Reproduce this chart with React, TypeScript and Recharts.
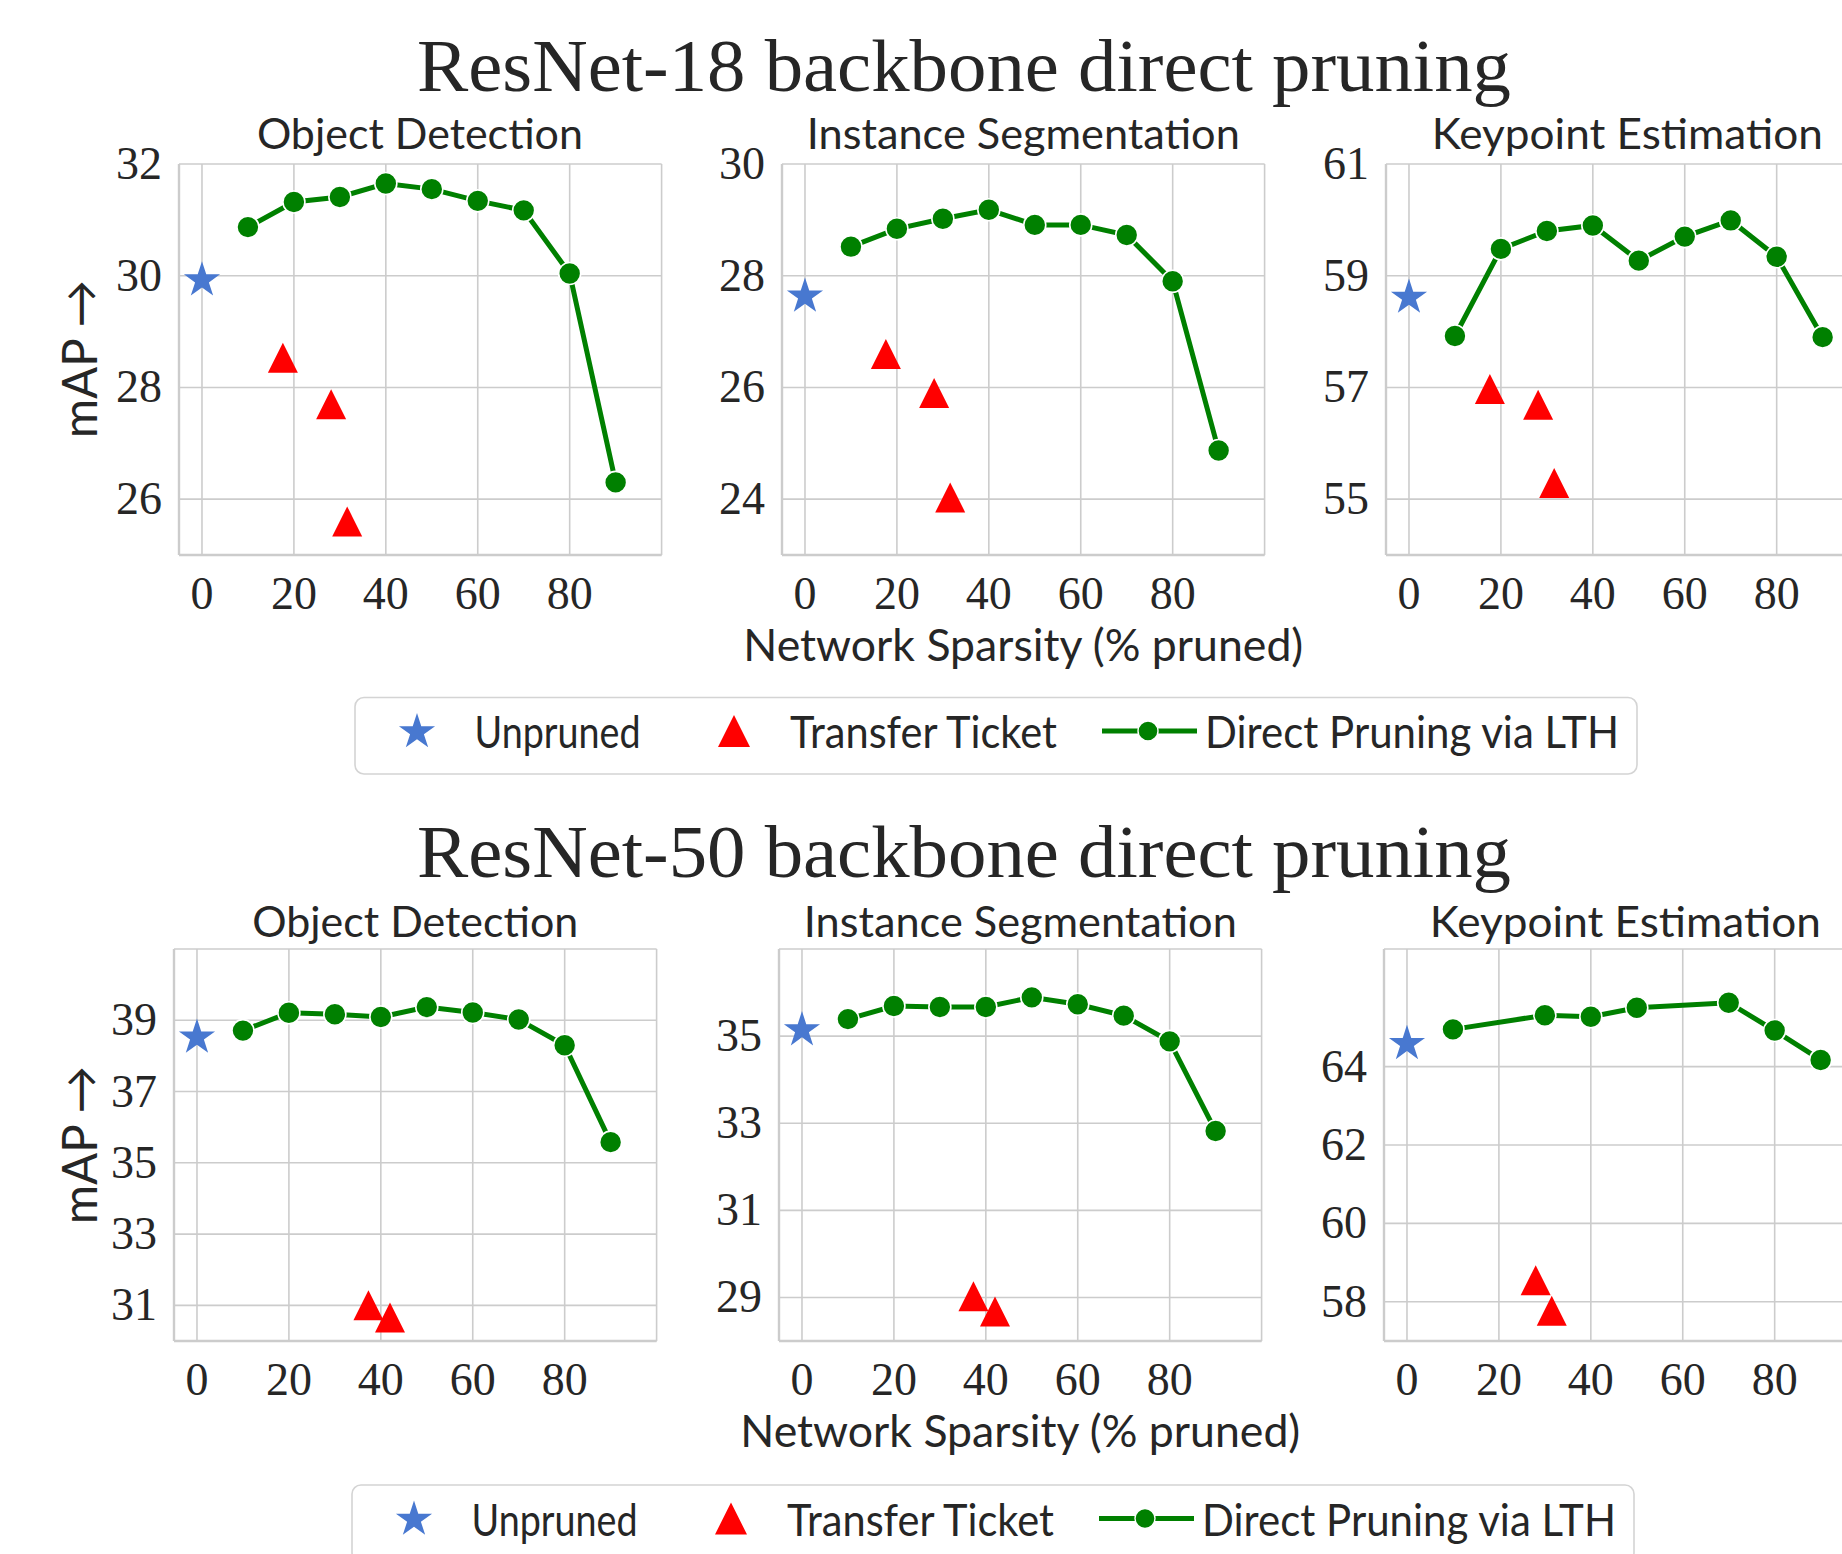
import React from "react";
import { ComposedChart, Line, Scatter, XAxis, YAxis, CartesianGrid } from "recharts";

// ---------------- data ----------------
const sparsity = [10, 20, 30, 40, 50, 60, 70, 80, 90];
const r18DetLTH = [30.87, 31.32, 31.41, 31.65, 31.55, 31.34, 31.17, 30.04, 26.3];
const r18SegLTH = [28.52, 28.84, 29.02, 29.18, 28.91, 28.91, 28.73, 27.9, 24.87];
const r18KptLTH = [57.92, 59.48, 59.8, 59.9, 59.27, 59.7, 59.99, 59.34, 57.9];
const r50DetLTH = [38.71, 39.21, 39.17, 39.09, 39.37, 39.22, 39.02, 38.3, 35.58];
const r50SegLTH = [35.39, 35.69, 35.67, 35.67, 35.89, 35.73, 35.47, 34.88, 32.82];
const r50KptSparsity = [10, 30, 40, 50, 70, 80, 90];
const r50KptLTH = [64.95, 65.31, 65.27, 65.5, 65.63, 64.92, 64.17];

const r18Unpruned = [29.92, 27.63, 58.61];
const r50Unpruned = [38.52, 35.14, 64.58];

const r18TicketSparsity = [17.6, 28.1, 31.6];
const r18DetTicket = [28.53, 27.7, 25.6];
const r18SegTicket = [26.6, 25.9, 24.03];
const r18KptTicket = [56.97, 56.69, 55.29];
const r50TicketSparsity = [37.3, 42.0];
const r50DetTicket = [31.0, 30.66];
const r50SegTicket = [29.03, 28.68];
const r50KptTicketSparsity = [28.0, 31.5];
const r50KptTicket = [58.55, 57.77];

const xTicks = [0, 20, 40, 60, 80];
const r18DetYTicks = [26, 28, 30, 32];
const r18SegYTicks = [24, 26, 28, 30];
const r18KptYTicks = [55, 57, 59, 61];
const r50DetYTicks = [31, 33, 35, 37, 39];
const r50SegYTicks = [29, 31, 33, 35];
const r50KptYTicks = [58, 60, 62, 64];

const taskTitles = ["Object Detection", "Instance Segmentation", "Keypoint Estimation"];
const figTitles = ["ResNet-18 backbone direct pruning", "ResNet-50 backbone direct pruning"];
const legendLabels = ["Unpruned", "Transfer Ticket", "Direct Pruning via LTH"];
const xLabel = "Network Sparsity (% pruned)";
const yLabel = "mAP \u2192";

// ---------------- style ----------------
const SANS = "Lato, 'Noto Sans', 'DejaVu Sans', sans-serif";
const SERIF = "'Liberation Serif', 'DejaVu Serif', serif";
const TXT = "#262626";
const GRID = "#cccccc";
const GREEN = "#008000";
const BLUE = "#4878d0";
const RED = "#ff0000";

const YW = 130;
const MT = 45;
const MR = 20;
const XH = 70;
const PLOT_W = 482.6;

const zip = (xs: number[], ys: number[]) => xs.map((x, i) => ({ x, y: ys[i] }));

function starPath(cx: number, cy: number, R: number) {
  const r = R * 0.381966;
  let d = "";
  for (let i = 0; i < 10; i++) {
    const a = ((-90 + i * 36) * Math.PI) / 180;
    const rad = i % 2 === 0 ? R : r;
    d += (i === 0 ? "M" : "L") + (cx + rad * Math.cos(a)).toFixed(2) + "," + (cy + rad * Math.sin(a)).toFixed(2);
  }
  return d + "Z";
}
function triPath(cx: number, cy: number, s: number) {
  const h = s / 2;
  return `M${cx},${cy - h}L${cx - h},${cy + h}L${cx + h},${cy + h}Z`;
}

const StarShape = (p: any) => <path d={starPath(p.cx, p.cy, 19)} fill={BLUE} />;
const TriShape = (p: any) => <path d={triPath(p.cx, p.cy, 30)} fill={RED} />;
const GreenDot = (p: any) => (
  <circle key={"d" + p.index} cx={p.cx} cy={p.cy} r={11} fill={GREEN} stroke="#ffffff" strokeWidth={1.6} />
);

type PanelProps = {
  left: number;
  top: number;
  plotH: number;
  lineData: { x: number; y: number }[];
  starData: { x: number; y: number }[];
  triData: { x: number; y: number }[];
  yDomain: [number, number];
  yTicks: number[];
};

function Panel({ left, top, plotH, lineData, starData, triData, yDomain, yTicks }: PanelProps) {
  const w = YW + PLOT_W + MR;
  const h = MT + plotH + XH;
  const YTick = (p: any) => (
    <text x={YW - 17} y={p.y + 15} textAnchor="end" fontFamily={SERIF} fontSize={46} fill={TXT}>
      {p.payload.value}
    </text>
  );
  const XTick = (p: any) => (
    <text x={p.x} y={MT + plotH + 54} textAnchor="middle" fontFamily={SERIF} fontSize={46} fill={TXT}>
      {p.payload.value}
    </text>
  );
  return (
    <div style={{ position: "absolute", left: left - YW, top: top - MT, width: w, height: h }}>
      <ComposedChart width={w} height={h} data={lineData} margin={{ top: MT, right: MR, left: 0, bottom: 0 }}>
        <CartesianGrid stroke={GRID} strokeWidth={1.6} />
        <XAxis
          type="number"
          dataKey="x"
          domain={[-5, 100]}
          ticks={xTicks}
          interval={0}
          height={XH}
          tickLine={false}
          axisLine={{ stroke: GRID, strokeWidth: 2.4 }}
          tick={<XTick />}
        />
        <YAxis
          type="number"
          dataKey="y"
          domain={yDomain}
          ticks={yTicks}
          interval={0}
          width={YW}
          tickLine={false}
          axisLine={{ stroke: GRID, strokeWidth: 2.4 }}
          tick={<YTick />}
        />
        <Line
          type="linear"
          dataKey="y"
          stroke={GREEN}
          strokeWidth={5}
          dot={GreenDot}
          activeDot={false}
          isAnimationActive={false}
        />
        <Scatter data={starData} dataKey="y" shape={StarShape} isAnimationActive={false} />
        <Scatter data={triData} dataKey="y" shape={TriShape} isAnimationActive={false} />
      </ComposedChart>
    </div>
  );
}

function LegendBox({ dx, dy }: { dx: number; dy: number }) {
  const cy = 731 + dy;
  const base = 748 + dy;
  return (
    <g>
      <rect x={355 + dx} y={697.5 + dy} width={1282} height={76.5} rx={9} fill="#ffffff" stroke="#d4d4d4" strokeWidth={1.6} />
      <path d={starPath(417 + dx, cy + 1, 19)} fill={BLUE} />
      <text x={474.5 + dx} y={base} fontFamily={SANS} fontSize={44} fill={TXT} textLength={166} lengthAdjust="spacingAndGlyphs">
        {legendLabels[0]}
      </text>
      <path d={triPath(734 + dx, cy, 32)} fill={RED} />
      <text x={790 + dx} y={base} fontFamily={SANS} fontSize={44} fill={TXT} textLength={267} lengthAdjust="spacingAndGlyphs">
        {legendLabels[1]}
      </text>
      <line x1={1102 + dx} y1={cy} x2={1197 + dx} y2={cy} stroke={GREEN} strokeWidth={5} />
      <circle cx={1148 + dx} cy={cy} r={10} fill={GREEN} stroke="#ffffff" strokeWidth={1.4} />
      <text x={1205 + dx} y={base} fontFamily={SANS} fontSize={44} fill={TXT} textLength={414} lengthAdjust="spacingAndGlyphs">
        {legendLabels[2]}
      </text>
    </g>
  );
}

const topLefts = [178.6, 782, 1386];
const botLefts = [174, 779, 1384];
const TOP_Y = 163.5;
const TOP_H = 391;
const BOT_Y = 949;
const BOT_H = 392;
const subWidths = [326, 433, 391];

export default function App() {
  const overlay = (
    <svg width={1842} height={1554} style={{ position: "absolute", left: 0, top: 0, pointerEvents: "none" }}>
      {[0, 1].map((row) => {
        const lefts = row === 0 ? topLefts : botLefts;
        const py = row === 0 ? TOP_Y : BOT_Y;
        const ph = row === 0 ? TOP_H : BOT_H;
        return (
          <g key={row}>
            <text
              x={964}
              y={row === 0 ? 91 : 877}
              textAnchor="middle"
              fontFamily={SERIF}
              fontSize={74}
              fill={TXT}
              textLength={1094}
              lengthAdjust="spacingAndGlyphs"
            >
              {figTitles[row]}
            </text>
            {taskTitles.map((t, i) => (
              <text
                key={t}
                x={lefts[i] + PLOT_W / 2}
                y={row === 0 ? 149 : 937}
                textAnchor="middle"
                fontFamily={SANS}
                fontSize={42}
                fill={TXT}
                textLength={subWidths[i]}
                lengthAdjust="spacingAndGlyphs"
              >
                {t}
              </text>
            ))}
            <text
              x={lefts[1] + PLOT_W / 2}
              y={py + ph + 106}
              textAnchor="middle"
              fontFamily={SANS}
              fontSize={45}
              fill={TXT}
              textLength={560}
              lengthAdjust="spacingAndGlyphs"
            >
              {xLabel}
            </text>
            <text
              transform={`translate(97, ${py + ph / 2}) rotate(-90)`}
              textAnchor="middle"
              fontFamily={SANS}
              fontSize={48}
              fill={TXT}
              textLength={158}
              lengthAdjust="spacingAndGlyphs"
            >
              {yLabel}
            </text>
          </g>
        );
      })}
      <LegendBox dx={0} dy={0} />
      <LegendBox dx={-3} dy={787.5} />
    </svg>
  );

  return (
    <div
      style={{
        position: "absolute",
        left: 0,
        top: 0,
        width: 1842,
        height: 1554,
        overflow: "hidden",
        background: "#ffffff",
      }}
    >
      <Panel left={topLefts[0]} top={TOP_Y} plotH={TOP_H} lineData={zip(sparsity, r18DetLTH)}
        starData={[{ x: 0, y: r18Unpruned[0] }]} triData={zip(r18TicketSparsity, r18DetTicket)}
        yDomain={[25, 32]} yTicks={r18DetYTicks} />
      <Panel left={topLefts[1]} top={TOP_Y} plotH={TOP_H} lineData={zip(sparsity, r18SegLTH)}
        starData={[{ x: 0, y: r18Unpruned[1] }]} triData={zip(r18TicketSparsity, r18SegTicket)}
        yDomain={[23, 30]} yTicks={r18SegYTicks} />
      <Panel left={topLefts[2]} top={TOP_Y} plotH={TOP_H} lineData={zip(sparsity, r18KptLTH)}
        starData={[{ x: 0, y: r18Unpruned[2] }]} triData={zip(r18TicketSparsity, r18KptTicket)}
        yDomain={[54, 61]} yTicks={r18KptYTicks} />
      <Panel left={botLefts[0]} top={BOT_Y} plotH={BOT_H} lineData={zip(sparsity, r50DetLTH)}
        starData={[{ x: 0, y: r50Unpruned[0] }]} triData={zip(r50TicketSparsity, r50DetTicket)}
        yDomain={[30, 41]} yTicks={r50DetYTicks} />
      <Panel left={botLefts[1]} top={BOT_Y} plotH={BOT_H} lineData={zip(sparsity, r50SegLTH)}
        starData={[{ x: 0, y: r50Unpruned[1] }]} triData={zip(r50TicketSparsity, r50SegTicket)}
        yDomain={[28, 37]} yTicks={r50SegYTicks} />
      <Panel left={botLefts[2]} top={BOT_Y} plotH={BOT_H} lineData={zip(r50KptSparsity, r50KptLTH)}
        starData={[{ x: 0, y: r50Unpruned[2] }]} triData={zip(r50KptTicketSparsity, r50KptTicket)}
        yDomain={[57, 67]} yTicks={r50KptYTicks} />
      {overlay}
    </div>
  );
}
